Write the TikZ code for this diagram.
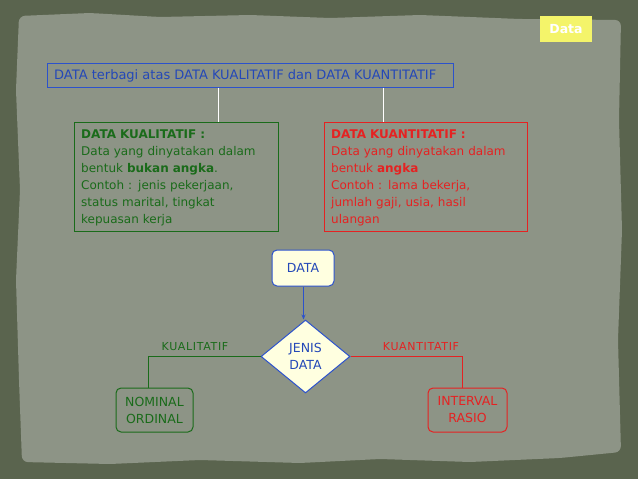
\documentclass[tikz,border=0pt]{standalone}
\usepackage{fontspec}
\setmainfont{DejaVu Sans}
\newfontfamily\lblfont[LetterSpace=6]{DejaVu Sans}
\usetikzlibrary{shapes.geometric,arrows.meta}
\definecolor{frame}{HTML}{5A644E}
\definecolor{paper}{HTML}{8D9486}
\definecolor{dblue}{HTML}{2448B8}
\definecolor{bblue}{HTML}{2C52CC}
\definecolor{dgreen}{HTML}{1A6B1A}
\definecolor{dred}{HTML}{E52222}
\definecolor{lyellow}{HTML}{FFFFE0}
\definecolor{yel}{HTML}{F4F46A}
\tikzset{
  txt/.style={font=\fontsize{12}{17}\selectfont},
  ftxt/.style={font=\fontsize{12.5}{17}\selectfont},
  textbox/.style={txt, align=left, anchor=north west, inner sep=0pt, text width=#1},
  panel/.style={color=#1, draw, line width=1.1pt, anchor=north west, inner sep=0pt},
  rbox/.style={draw, line width=1pt, rounded corners=5pt, ftxt, align=center, inner sep=0pt},
  conn/.style={line width=1pt},
  lbl/.style={font=\lblfont\fontsize{11}{12}\selectfont, inner sep=1pt}
}
\begin{document}
\begin{tikzpicture}[x=1pt,y=-1pt]
\fill[frame] (0,0) rectangle (638,479);
\fill[paper, rounded corners=6pt] (19,16) -- (90,13) -- (160,17) -- (250,15) -- (330,18) -- (420,15) -- (520,19) -- (621,20) -- (619,120) -- (622,230) -- (618,340) -- (621,452) -- (560,458) -- (470,462) -- (380,459) -- (300,463) -- (200,460) -- (110,464) -- (22,462) -- (19,380) -- (16,280) -- (20,190) -- (16,90) -- cycle;
\useasboundingbox (0,0) rectangle (638,479);
% Data tag
\node[fill=yel, minimum width=52pt, minimum height=26pt, inner sep=0pt, text=white, font=\fontsize{12.5}{14}\selectfont\bfseries] (tag) at (566,29) {Data};
% top box
\node[panel=bblue, minimum width=406pt, minimum height=24pt] (top) at (46.5,62.5) {};
\node[text=dblue, anchor=west, inner sep=0pt, font=\fontsize{13}{15}\selectfont] (toptxt) at (54,76) {DATA terbagi atas DATA KUALITATIF dan DATA KUANTITATIF};
% green & red boxes
\node[panel=dgreen, minimum width=204pt, minimum height=109pt] (kual) at (73.5,121.5) {};
\node[text=dgreen, textbox=195pt] (kualtxt) at (81,129.5) {\textbf{DATA KUALITATIF :}\\Data yang dinyatakan dalam\\bentuk \textbf{bukan angka}.\\Contoh : jenis pekerjaan,\\status marital, tingkat\\kepuasan kerja};
\node[panel=dred, minimum width=203pt, minimum height=109pt] (kuan) at (323.5,121.5) {};
\node[text=dred, textbox=195pt] (kuantxt) at (331,129.5) {\textbf{DATA KUANTITATIF :}\\Data yang dinyatakan dalam\\bentuk \textbf{angka}\\Contoh : lama bekerja,\\jumlah gaji, usia, hasil\\ulangan};
\draw[white, line width=1pt] (top.south -| 218.5,0) -- (kual.north -| 218.5,0);
\draw[white, line width=1pt] (top.south -| 383.5,0) -- (kuan.north -| 383.5,0);
% flowchart
\node[rbox, draw=bblue, fill=lyellow, text=dblue, minimum width=62pt, minimum height=36pt] (data) at (303,268) {DATA};
\node[diamond, draw=bblue, line width=1pt, fill=lyellow, text=dblue, ftxt, align=center, minimum width=89pt, minimum height=73pt, inner sep=0pt] (jenis) at (305.5,356.5) {JENIS\\DATA};
\draw[conn, bblue, -{Stealth[length=5pt,width=4pt]}] (data.south -| 303.5,0) -- (jenis.north -| 303.5,0);
\node[rbox, draw=dgreen, text=dgreen, minimum width=77pt, minimum height=44pt] (nom) at (154.5,410) {NOMINAL\\ORDINAL};
\node[rbox, draw=dred, text=dred, minimum width=79pt, minimum height=44pt] (int) at (467.5,410) {INTERVAL\\RASIO};
\draw[conn, dgreen] (jenis.west) -| (nom.north -| 148.5,0);
\draw[conn, dred] (jenis.east) -| (int.north -| 462.5,0);
\node[text=dgreen, lbl] (lk) at (195,347) {KUALITATIF};
\node[text=dred, lbl] (ln) at (421,347) {KUANTITATIF};
\end{tikzpicture}
\end{document}
